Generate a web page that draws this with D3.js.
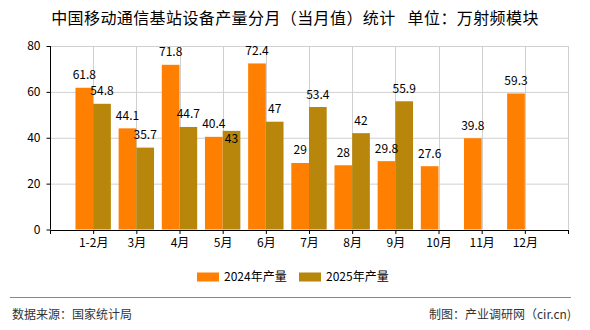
<!DOCTYPE html>
<html><head><meta charset="utf-8">
<script src="https://cdn.jsdelivr.net/npm/d3@7/dist/d3.min.js"></script>
<style>
body{margin:0;background:#fff;}
svg{display:block;font-family:"Noto Sans CJK SC","DejaVu Sans",sans-serif;}
</style></head><body>
<script>
const categories = ["1-2月","3月","4月","5月","6月","7月","8月","9月","10月","11月","12月"];
const values2024 = [61.8,44.1,71.8,40.4,72.4,29,28,29.8,27.6,39.8,59.3];
const values2025 = [54.8,35.7,44.7,43,47,53.4,42,55.9,null,null,null];
const yTicks = [0,20,40,60,80];
const seriesNames = ["2024年产量","2025年产量"];
const colors = ["#FF8000","#B8860B"];

const W=590,H=330;
const svg=d3.select("body").append("svg").attr("width",W).attr("height",H);

const x=d3.scaleLinear().domain([0,categories.length+1]).range([50,568]);
const y=d3.scaleLinear().domain([0,80]).range([229.5,46]);
const step=x(1)-x(0);
const bw=step*0.41;

// title
svg.append("text").attr("x",295).attr("y",24).attr("text-anchor","middle")
  .attr("font-size",16).attr("fill","#000").attr("letter-spacing",0.4)
  .text("中国移动通信基站设备产量分月（当月值）统计\u2002\u2009单位：万射频模块");

// grid
const g=svg.append("g");
g.selectAll(".hg").data(yTicks.filter(d=>d>0)).enter().append("line")
  .attr("x1",x(0)).attr("x2",x(categories.length+1)).attr("y1",d=>y(d)+0.5).attr("y2",d=>y(d)+0.5)
  .attr("stroke","#d0d0d0").attr("stroke-width",1);
const vpos=d3.range(1,categories.length+2);
g.selectAll(".vg").data(vpos).enter().append("line")
  .attr("x1",d=>Math.round(x(d))+0.5).attr("x2",d=>Math.round(x(d))+0.5).attr("y1",y(80)).attr("y2",y(0))
  .attr("stroke","#d0d0d0").attr("stroke-width",1);

// bars
const series=[values2024,values2025];
series.forEach((vals,si)=>{
  svg.append("g").selectAll("rect").data(vals.map((v,i)=>({v,i})).filter(d=>d.v!=null)).enter().append("rect")
    .attr("x",d=>si===0? x(d.i+1)-bw : x(d.i+1))
    .attr("width",bw)
    .attr("y",d=>y(d.v)).attr("height",d=>y(0)-y(d.v))
    .attr("fill",colors[si]);
});

// labels
const lab=svg.append("g").attr("font-size",12).attr("fill","#000").attr("text-anchor","middle");
categories.forEach((c,i)=>{
  const a=values2024[i], b=values2025[i];
  let ya=null;
  if(a!=null){
    ya=y(a)-8.5;
    lab.append("text").attr("x",x(i+1)-bw/2).attr("y",ya).text(a);
  }
  if(b!=null){
    let yb=y(b)-8.5;
    if(ya!=null && Math.abs(yb-ya)<12) yb=y(b)+12.5;
    lab.append("text").attr("x",x(i+1)+bw/2).attr("y",yb).text(b);
  }
});

// axes
const yAxis=svg.append("g").attr("transform",`translate(${x(0)+0.5},0)`)
  .call(d3.axisLeft(y).tickValues(yTicks).tickSize(4).tickPadding(6));
const xAxis=svg.append("g").attr("transform",`translate(0,${y(0)+0.5})`)
  .call(d3.axisBottom(x).tickValues(d3.range(0,categories.length+2)).tickSize(4).tickPadding(4)
    .tickFormat(d=> (d>=1&&d<=categories.length)? categories[d-1] : ""));
[yAxis,xAxis].forEach(a=>{
  a.selectAll("path,line").attr("stroke","#000");
  a.selectAll("text").attr("font-size",12).attr("fill","#000").attr("font-family","Noto Sans CJK SC, DejaVu Sans, sans-serif");
});
yAxis.select(".domain").attr("d",`M0,${y(80)}V${y(0)}`);

// legend
const leg=svg.append("g");
const legX=[197,299];
seriesNames.forEach((n,i)=>{
  leg.append("rect").attr("x",legX[i]).attr("y",272.5).attr("width",22).attr("height",9).attr("fill",colors[i]);
  leg.append("text").attr("x",legX[i]+27).attr("y",281).attr("font-size",12).attr("fill","#000").text(n);
});

// footer
svg.append("line").attr("x1",10).attr("x2",571).attr("y1",297.5).attr("y2",297.5).attr("stroke","#888").attr("stroke-width",1);
svg.append("text").attr("x",12).attr("y",319).attr("font-size",12).attr("fill","#333").text("数据来源：国家统计局");
svg.append("text").attr("x",571).attr("y",319).attr("text-anchor","end").attr("font-size",12).attr("fill","#333").text("制图：产业调研网（cir.cn)");
</script>
</body></html>
